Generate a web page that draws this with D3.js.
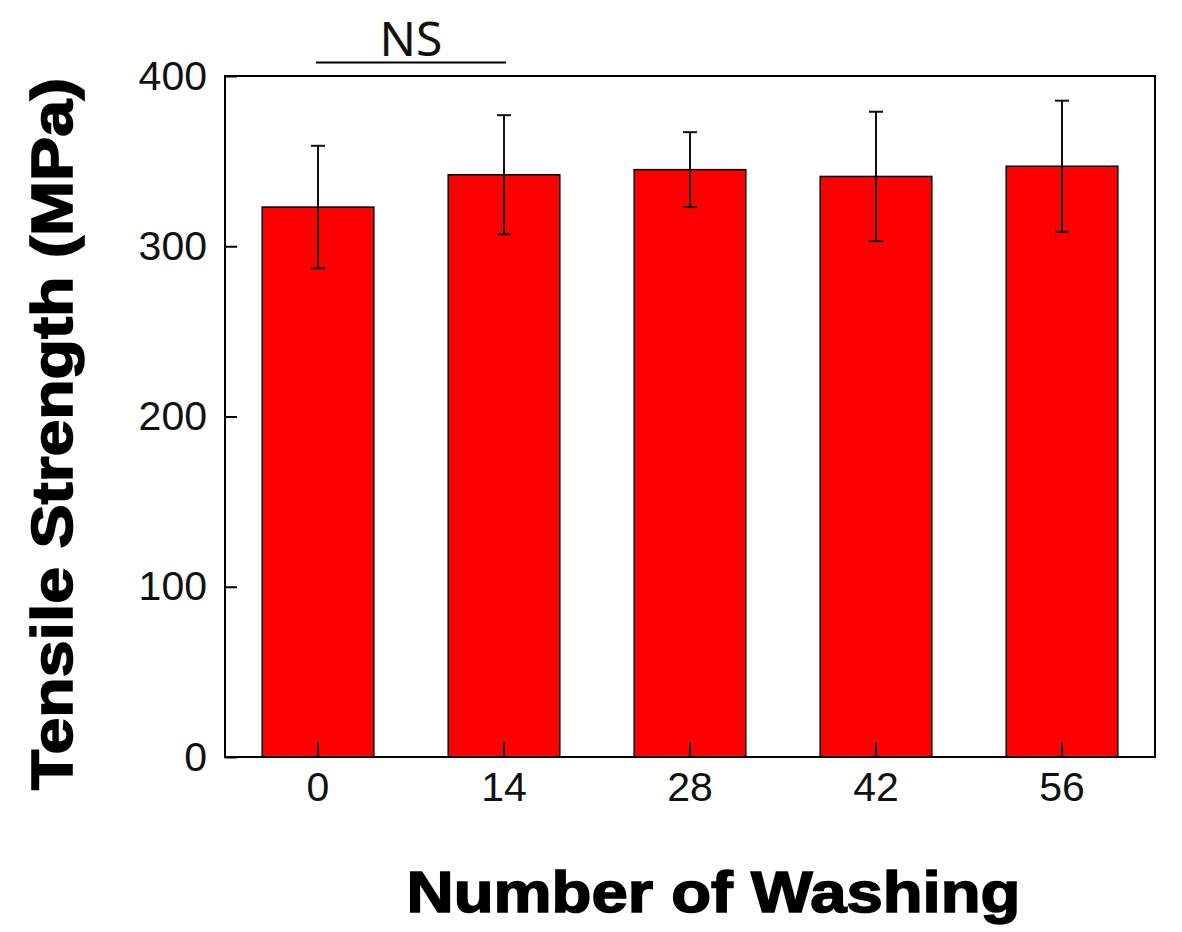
<!DOCTYPE html>
<html>
<head>
<meta charset="utf-8">
<script src="https://cdn.jsdelivr.net/npm/d3@7"></script>
<style>
  html, body { margin: 0; padding: 0; background: #fff; }
  svg { display: block; }
</style>
</head>
<body>
<svg id="chart" width="1182" height="932"></svg>
<script>
// ---- data ----
const categories = ["0", "14", "28", "42", "56"];
const meanValues = [323, 342, 345, 341, 347];
const errorValues = [36, 35, 22, 38, 38.5];
const yTickValues = [0, 100, 200, 300, 400];
const xTitle = "Number of Washing";
const yTitle = "Tensile Strength (MPa)";
const sigLabel = "NS";
const sigPair = ["0", "14"];

// ---- layout ----
const W = 1182, H = 932;
const plot = { left: 225, right: 1155, top: 76, bottom: 757 };

const svg = d3.select("#chart");

const x = d3.scaleBand()
  .domain(categories)
  .range([plot.left, plot.right])
  .paddingInner(0.4)
  .paddingOuter(0.2);

const y = d3.scaleLinear()
  .domain([0, 400])
  .range([plot.bottom, plot.top]);

const data = categories.map((c, i) => ({ c, v: meanValues[i], e: errorValues[i] }));

// bars
svg.append("g").selectAll("rect")
  .data(data)
  .join("rect")
  .attr("x", d => x(d.c))
  .attr("y", d => y(d.v))
  .attr("width", x.bandwidth())
  .attr("height", d => y(0) - y(d.v))
  .attr("fill", "#ff0000")
  .attr("stroke", "#000")
  .attr("stroke-width", 1.5);

// error bars
const capHalf = 7;
const eb = svg.append("g").attr("stroke", "#111").attr("stroke-width", 2);
data.forEach(d => {
  const cx = x(d.c) + x.bandwidth() / 2;
  eb.append("line").attr("x1", cx).attr("x2", cx)
    .attr("y1", y(d.v + d.e)).attr("y2", y(d.v - d.e));
  eb.append("line").attr("x1", cx - capHalf).attr("x2", cx + capHalf)
    .attr("y1", y(d.v + d.e)).attr("y2", y(d.v + d.e));
  eb.append("line").attr("x1", cx - capHalf).attr("x2", cx + capHalf)
    .attr("y1", y(d.v - d.e)).attr("y2", y(d.v - d.e));
});

// axes
const fontTicks = "'Liberation Sans', Arial, sans-serif";
const tickFontSize = 41;

const yAxis = d3.axisLeft(y)
  .tickValues(yTickValues)
  .tickSizeInner(-12)
  .tickSizeOuter(0)
  .tickPadding(18)
  .tickFormat(d3.format("d"));

const gy = svg.append("g")
  .attr("transform", `translate(${plot.left},0)`)
  .call(yAxis);
gy.select(".domain").remove();
gy.selectAll(".tick line").attr("stroke", "#000").attr("stroke-width", 2);
gy.selectAll(".tick text")
  .attr("font-family", fontTicks)
  .attr("font-size", tickFontSize)
  .attr("fill", "#111");

const xAxis = d3.axisBottom(x)
  .tickSizeInner(-15)
  .tickSizeOuter(0)
  .tickPadding(15);

const gx = svg.append("g")
  .attr("transform", `translate(0,${plot.bottom})`)
  .call(xAxis);
gx.select(".domain").remove();
gx.selectAll(".tick line").attr("stroke", "#000").attr("stroke-width", 2);
gx.selectAll(".tick text")
  .attr("font-family", fontTicks)
  .attr("font-size", tickFontSize)
  .attr("fill", "#111");

// frame
svg.append("rect")
  .attr("x", plot.left)
  .attr("y", plot.top)
  .attr("width", plot.right - plot.left)
  .attr("height", plot.bottom - plot.top)
  .attr("fill", "none")
  .attr("stroke", "#000")
  .attr("stroke-width", 2);

// significance marker
const sx1 = x(sigPair[0]) + x.bandwidth() / 2 - 2;
const sx2 = x(sigPair[1]) + x.bandwidth() / 2 + 2;
svg.append("line")
  .attr("x1", sx1).attr("x2", sx2)
  .attr("y1", 62.5).attr("y2", 62.5)
  .attr("stroke", "#000").attr("stroke-width", 2);
svg.append("text")
  .attr("x", (sx1 + sx2) / 2)
  .attr("y", 56)
  .attr("text-anchor", "middle")
  .attr("font-family", "'Noto Sans', 'Liberation Sans', sans-serif")
  .attr("font-size", 48)
  .attr("fill", "#111")
  .text(sigLabel);

// axis titles
svg.append("text")
  .attr("x", 713.5)
  .attr("y", 912)
  .attr("text-anchor", "middle")
  .attr("font-family", "'Liberation Sans', Arial, sans-serif")
  .attr("font-weight", "bold")
  .attr("font-size", 58)
  .attr("textLength", 614)
  .attr("lengthAdjust", "spacingAndGlyphs")
  .attr("stroke", "#000")
  .attr("stroke-width", 1.6)
  .attr("fill", "#000")
  .text(xTitle);

svg.append("text")
  .attr("transform", "translate(72,434) rotate(-90)")
  .attr("text-anchor", "middle")
  .attr("font-family", "'Liberation Sans', Arial, sans-serif")
  .attr("font-weight", "bold")
  .attr("font-size", 58)
  .attr("textLength", 712)
  .attr("lengthAdjust", "spacingAndGlyphs")
  .attr("stroke", "#000")
  .attr("stroke-width", 1.6)
  .attr("fill", "#000")
  .text(yTitle);
</script>
</body>
</html>
